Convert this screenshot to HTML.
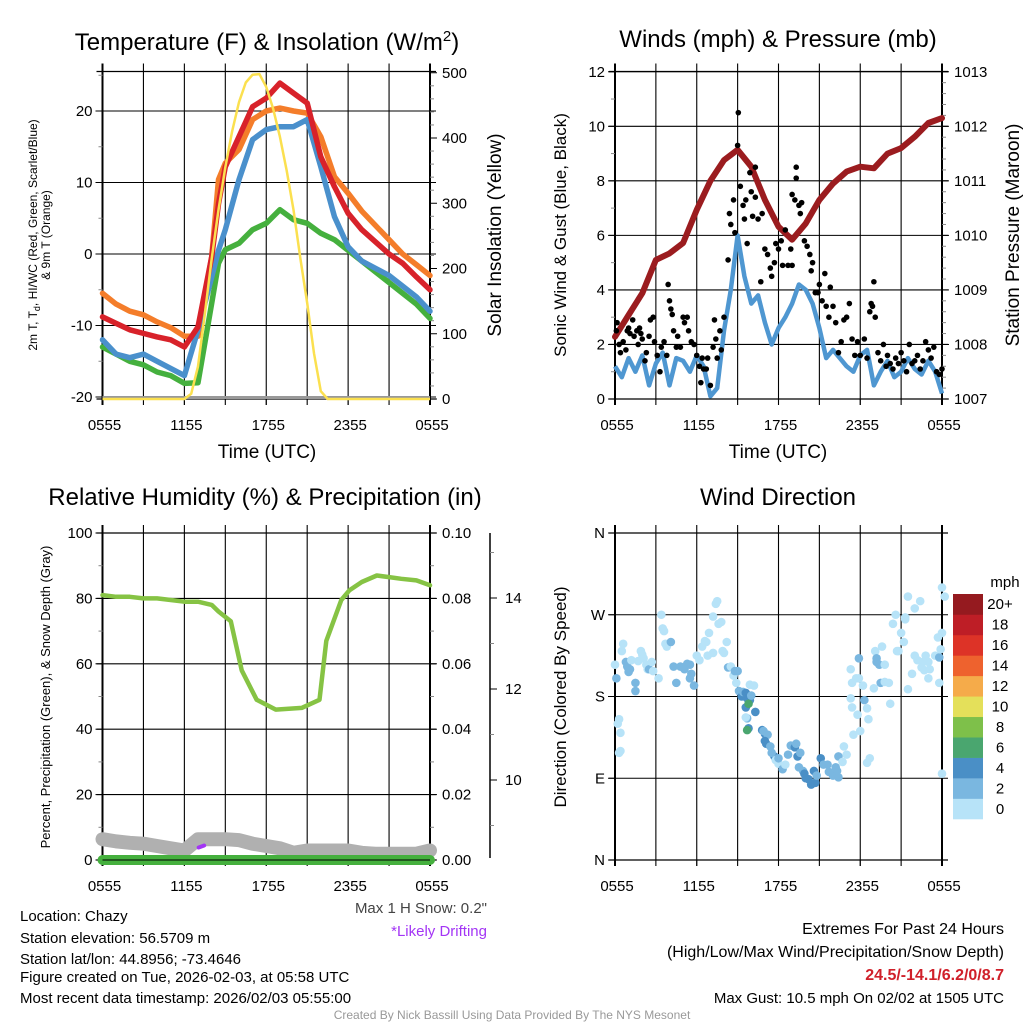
<!DOCTYPE html>
<html><head><meta charset="utf-8"><style>
html,body{margin:0;padding:0;background:#fff;}
svg{display:block;font-family:"Liberation Sans",Arial,sans-serif;}
</style></head><body>
<svg id="c" width="1024" height="1024" viewBox="0 0 1024 1024" xmlns="http://www.w3.org/2000/svg">
<rect width="1024" height="1024" fill="#fff"/>
<g id="g"></g>
<text x="267" y="50" font-size="24" text-anchor="middle">Temperature (F) &amp; Insolation (W/m<tspan dy="-9" font-size="15">2</tspan><tspan dy="9">)</tspan></text>
<text x="778" y="47" font-size="24" text-anchor="middle">Winds (mph) &amp; Pressure (mb)</text>
<text x="265" y="505" font-size="24" text-anchor="middle">Relative Humidity (%) &amp; Precipitation (in)</text>
<text x="778" y="505" font-size="24" text-anchor="middle">Wind Direction</text>
<text x="267" y="458" font-size="19" text-anchor="middle">Time (UTC)</text>
<text x="778" y="458" font-size="19" text-anchor="middle">Time (UTC)</text>
<text transform="translate(37,235) rotate(-90)" font-size="12" text-anchor="middle">2m T, T<tspan dy="3" font-size="9">d</tspan><tspan dy="-3">, HI/WC (Red, Green, Scarlet/Blue)</tspan></text>
<text transform="translate(50,235) rotate(-90)" font-size="12" text-anchor="middle">&amp; 9m T (Orange)</text>
<text transform="translate(501,235) rotate(-90)" font-size="19" text-anchor="middle">Solar Insolation (Yellow)</text>
<text transform="translate(566,235) rotate(-90)" font-size="17" text-anchor="middle">Sonic Wind &amp; Gust (Blue, Black)</text>
<text transform="translate(1019,235) rotate(-90)" font-size="19" text-anchor="middle">Station Pressure (Maroon)</text>
<text transform="translate(50,697) rotate(-90)" font-size="13" text-anchor="middle">Percent, Precipitation (Green), &amp; Snow Depth (Gray)</text>
<text transform="translate(566,697) rotate(-90)" font-size="17" text-anchor="middle">Direction (Colored By Speed)</text>
<g font-size="15">
<text x="20" y="921">Location: Chazy</text>
<text x="20" y="943">Station elevation: 56.5709 m</text>
<text x="20" y="964">Station lat/lon: 44.8956; -73.4646</text>
<text x="20" y="982">Figure created on Tue, 2026-02-03, at 05:58 UTC</text>
<text x="20" y="1003">Most recent data timestamp: 2026/02/03 05:55:00</text>
</g>
<text x="487" y="913" font-size="15" text-anchor="end" fill="#444">Max 1 H Snow: 0.2"</text>
<text x="487" y="936" font-size="15" text-anchor="end" fill="#a335f5">*Likely Drifting</text>
<text x="1004" y="934" font-size="16" text-anchor="end">Extremes For Past 24 Hours</text>
<text x="1004" y="957" font-size="16" text-anchor="end">(High/Low/Max Wind/Precipitation/Snow Depth)</text>
<text x="1004" y="980" font-size="16" font-weight="bold" text-anchor="end" fill="#d0202a">24.5/-14.1/6.2/0/8.7</text>
<text x="1004" y="1003" font-size="15" text-anchor="end">Max Gust: 10.5 mph On 02/02 at 1505 UTC</text>
<text x="512" y="1019" font-size="12" text-anchor="middle" fill="#999">Created By Nick Bassill Using Data Provided By The NYS Mesonet</text>
</svg>
<script>
// ---- data (hours since 0555 UTC) ----
const xTickLabels = ["0555","1155","1755","2355","0555"];
const hours = [0,1,2,3,4,5,6,7,8,8.5,9,10,11,12,13,14,15,16,17,18,19,20,21,22,23,24];
const tempRed = [-8.8,-9.7,-10.6,-11.1,-11.6,-12,-13,-10.2,-0.4,7,12.2,16.4,20.6,21.8,23.9,22.5,21.1,13.6,9.4,5.7,3.4,1.7,0,-1.3,-3.2,-5];
const tempOrange = [-5.5,-7,-8,-8.5,-9.5,-10.3,-11.5,-11.5,-0.4,10.4,12.7,14.6,18.8,20,20.4,20,19.7,16.4,10.8,8.5,6,4,2,0,-1.5,-3];
const tempBlue = [-12,-14,-14.5,-14,-15,-16,-17,-10.6,-3.2,0.5,3.4,10.4,16,17.4,17.8,17.8,18.8,12.2,5.2,1,-1,-2,-3,-4.5,-6,-8];
const tempGreen = [-13,-14,-15,-15.5,-16.5,-17,-18.1,-18,-6.9,-1.3,0.6,1.5,3.4,4.3,6.2,4.8,4.3,2.9,2,0.5,-1,-2.5,-4,-5.5,-7,-9];
const solarHours = [0,6,6.5,7,7.5,8,8.5,9,9.5,10,10.5,11,11.5,12,12.5,13,13.5,14,14.5,15,15.5,16,16.5,24];
const solarValues = [0,0,8,50,130,215,290,355,410,455,485,497,498,478,445,402,350,290,215,147,70,12,0,0];
const windHours = [0,0.5,1,1.5,2,2.5,3,3.5,4,4.5,5,5.5,6,6.5,7,7.5,8,8.5,9,9.5,10,10.5,11,11.5,12,12.5,13,13.5,14,14.5,15,15.5,16,16.5,17,17.5,18,18.5,19,19.5,20,20.5,21,21.5,22,22.5,23,23.5,24];
const windSpeed = [1.2,0.8,1.5,1.0,1.6,0.5,1.3,1.7,0.5,1.5,1.4,1.0,1.6,1.2,0.1,0.4,2.5,4.0,6.0,4.5,3.5,3.8,2.8,2.0,2.6,3.0,3.5,4.2,4.0,3.5,2.6,1.5,1.8,1.5,1.2,1.0,1.6,1.8,0.5,1.0,1.4,0.8,1.0,1.5,1.1,0.9,1.4,1.0,0.2];
const pressureHours = [0,1,2,3,4,5,6,7,8,9,10,11,12,13,14,15,16,17,18,19,20,21,22,23,24];
const pressure = [1008.14,1008.54,1008.94,1009.55,1009.67,1009.86,1010.47,1011.0,1011.38,1011.57,1011.26,1010.65,1010.16,1009.92,1010.22,1010.65,1010.95,1011.17,1011.26,1011.23,1011.5,1011.6,1011.81,1012.06,1012.15];
const gustHours = [0.1,0.15,0.3,0.4,0.6,0.8,0.9,1.0,1.1,1.3,1.4,1.6,1.7,1.8,1.9,2.0,2.2,2.3,2.5,2.6,2.8,2.9,3.1,3.3,3.4,3.6,3.8,3.9,4.0,4.1,4.2,4.3,4.5,4.6,4.8,5.0,5.1,5.3,5.4,5.6,5.8,6.0,6.2,6.3,6.4,6.5,6.7,6.8,7.0,7.2,7.3,7.4,7.5,7.7,7.8,8.0,8.3,8.4,8.5,8.7,8.8,9.0,9.05,9.2,9.4,9.5,9.6,9.7,9.9,10.0,10.1,10.3,10.3,10.5,10.7,10.8,11.0,11.2,11.4,11.5,11.7,11.8,12.0,12.2,12.3,12.5,12.7,12.9,13.0,13.0,13.2,13.3,13.3,13.5,13.6,13.7,13.9,14.1,14.3,14.4,14.5,14.7,14.9,15.0,15.2,15.4,15.5,15.7,15.8,16.0,16.2,16.4,16.6,16.8,17.0,17.2,17.4,17.6,17.8,18.0,18.3,18.5,18.7,18.8,18.9,19.0,19.1,19.3,19.5,19.7,19.9,20.0,20.2,20.4,20.6,20.8,21.0,21.2,21.4,21.6,21.8,22.0,22.2,22.4,22.6,22.8,23.0,23.2,23.4,23.6,23.8,24.0];
const gustValues = [2.5,2.8,2.0,1.7,2.1,1.8,2.5,2.6,2.4,2.9,2.3,2.5,2.0,2.6,2.4,2.2,1.4,1.7,2.3,2.9,3.0,2.1,1.6,1.0,1.9,2.1,1.6,4.2,3.6,3.3,3.1,2.5,1.9,2.3,1.9,3.0,2.8,3.0,2.5,2.1,2.0,1.6,1.2,0.6,1.5,1.1,1.1,1.5,0.5,1.9,2.9,2.2,1.5,2.5,1.8,3.0,5.1,6.8,6.4,7.3,6.1,9.3,10.5,7.8,7.1,6.6,7.3,5.7,8.3,7.6,6.7,8.5,7.4,6.6,4.3,6.8,5.5,5.3,4.8,4.5,5.0,5.7,5.5,5.8,4.9,6.2,4.9,5.5,4.9,7.5,7.3,8.5,8.1,7.1,6.8,7.2,5.8,5.6,5.3,4.7,5.0,3.9,3.9,4.2,3.6,4.6,3.4,3.0,4.1,3.4,2.8,1.7,2.1,2.9,3.0,3.5,2.2,1.6,2.1,1.6,2.2,1.5,3.2,3.5,3.4,4.3,3.0,1.7,1.4,2.0,1.2,1.6,1.3,1.1,1.5,1.3,1.7,1.4,1.0,2.0,1.3,1.4,1.6,1.1,1.4,2.1,1.8,1.5,1.9,1.0,0.9,1.1];
const rhHours = [0,1,2,3,4,5,6,7,8,8.5,9.4,10.2,11.3,12.7,14.6,15.9,16.4,17.5,18.1,19,20.1,21,21.9,23,24];
const rhValues = [81,80.5,80.5,80,80,79.5,79,79,78,76,73,58,49,46,46.5,49,67,79.5,82.5,85,87,86.5,86,85.5,84];
const snowHours = [0,1,2,3,4,5,6,7,8,9,10,11,12,13,14,15,16,17,18,19,20,21,22,23,24];
const snowDepth = [8.7,8.65,8.62,8.6,8.55,8.5,8.45,8.7,8.7,8.7,8.68,8.6,8.55,8.5,8.4,8.45,8.45,8.45,8.45,8.4,8.38,8.38,8.38,8.38,8.45];
const precip = [0,0,0,0,0,0,0,0,0,0,0,0,0,0,0,0,0,0,0,0,0,0,0,0,0];
const dirHours = [0.0,0.1,0.3,0.2,0.4,0.3,0.4,0.5,0.6,0.8,0.9,1.0,1.2,1.1,1.5,1.5,1.7,1.9,2.0,2.1,2.3,2.4,2.5,2.7,2.8,3.2,3.5,3.4,3.6,3.7,3.8,4.1,4.5,4.3,4.8,5.0,5.1,5.3,5.5,5.6,5.8,5.5,6.0,6.2,6.4,6.6,6.8,6.7,6.9,7.2,7.2,7.4,7.5,7.6,7.8,7.9,8.0,8.2,8.3,8.5,8.7,8.8,8.9,9.0,9.1,9.3,9.4,9.6,9.6,9.7,9.9,9.7,9.6,9.8,10.0,9.9,10.2,10.3,9.8,9.7,9.8,10.8,11.0,10.9,11.2,11.0,11.1,11.4,11.7,11.5,11.8,12.0,12.0,12.3,12.5,12.7,12.9,13.2,13.4,13.3,13.6,13.5,13.8,13.9,14.0,14.2,14.4,14.6,14.7,14.8,15.1,15.3,15.6,15.7,16.0,16.2,16.4,16.7,16.8,17.0,16.3,16.4,17.5,17.8,18.0,17.7,17.9,18.2,18.5,18.3,17.3,17.4,17.4,17.9,17.3,18.6,19.0,18.7,18.5,19.1,19.2,19.2,19.4,19.5,19.6,19.8,19.8,20.2,20.1,20.4,20.6,20.8,20.7,21.0,21.2,21.5,21.3,21.5,21.3,21.8,22.0,22.4,22.0,22.5,22.7,23.0,23.1,23.5,23.8,23.8,23.9,24.0,24.0,24.2,24.0,23.7,23.0,22.8,22.6,22.2];
const dirDegrees = [215,200,155,150,140,118,120,230,238,218,213,207,220,210,195,186,219,230,226,222,215,210,210,218,208,200,255,270,252,238,235,240,195,213,213,212,210,216,215,205,192,200,225,220,235,241,225,240,250,228,268,282,285,260,262,230,228,240,212,213,203,208,195,208,186,180,185,184,168,178,176,156,157,178,181,193,192,163,145,143,172,143,139,142,138,131,128,125,114,118,110,106,112,100,105,116,126,124,114,128,118,102,98,95,90,89,83,98,85,93,112,105,105,97,93,102,114,108,125,116,98,91,138,160,142,200,200,192,167,176,210,168,195,222,178,155,189,112,107,230,218,222,215,195,235,196,215,172,195,260,270,230,230,250,240,188,265,290,267,205,277,285,225,212,209,200,210,225,223,195,232,250,300,290,95,245,218,225,218,220];
const dirSpeed = [1,2,0,0,0,0,0,1,0,3,2,2,1,2,3,3,1,0,0,0,1,1,3,1,0,0,0,0,1,0,0,3,3,2,2,3,2,2,2,3,3,3,0,0,0,1,0,0,0,0,0,0,0,0,0,1,0,0,2,0,0,2,1,3,3,4,3,4,4,4,5,3,0,4,2,1,1,4,4,6,6,4,4,2,3,4,4,3,4,3,1,1,2,2,1,3,3,4,4,2,2,2,2,4,4,4,4,4,4,3,4,2,2,2,3,2,2,1,0,0,2,2,0,1,0,0,0,0,0,3,0,0,0,2,0,0,0,0,0,0,2,2,2,2,0,0,0,0,0,0,0,0,0,0,0,0,0,0,0,0,0,0,0,0,0,0,0,0,2,0,0,0,0,0,0,0,0,0,0,0,0];
const cbLabels = ["0","2","4","6","8","10","12","14","16","18","20+"];
const cbColors = ["#b7e3f8","#7ab7e0","#4a8fc6","#4aa66f","#7ec04a","#e4e05a","#f5ab4a","#ee622e","#dd3327","#be1e26","#951a1f"];

// ---- helpers ----
const NS="http://www.w3.org/2000/svg";
const G=document.getElementById('g');
function el(tag,attrs,parent){const e=document.createElementNS(NS,tag);for(const k in attrs)e.setAttribute(k,attrs[k]);(parent||G).appendChild(e);return e;}
function txt(x,y,s,size,anchor,parent){const t=el('text',{x:x,y:y,'font-size':size,'text-anchor':anchor||'middle'},parent);t.textContent=s;return t;}
function pathD(xs,ys){return xs.map((x,i)=>(i?'L':'M')+x.toFixed(1)+','+ys[i].toFixed(1)).join('');}

function makeX(x0,x1){return h=>x0+h/24*(x1-x0);}
function frame(P,name){
  const g=el('g',{});
  
  
  for(let h=3;h<24;h+=3){const x=P.x(h);el('line',{x1:x,x2:x,y1:P.top-8,y2:P.bot+6,stroke:'#000','stroke-width':1.1},g);}
  for(let i=0;i<=4;i++){const x=P.x(i*6);el('line',{x1:x,x2:x,y1:P.bot,y2:P.bot+6,stroke:'#000','stroke-width':1},g);
    txt(x+2,P.bot+31,xTickLabels[i],15,'middle',g);}
  el('line',{x1:P.x0,x2:P.x0,y1:P.top-8,y2:P.bot+6,stroke:'#000','stroke-width':2},g);
  el('line',{x1:P.x1,x2:P.x1,y1:P.top-8,y2:P.bot+6,stroke:'#000','stroke-width':2},g);
  el('line',{x1:P.x0-6,x2:P.x1+6,y1:P.top,y2:P.top,stroke:'#000','stroke-width':1.2},g);
  el('line',{x1:P.x0-6,x2:P.x1+6,y1:P.bot,y2:P.bot,stroke:'#000','stroke-width':1.2},g);
  return g;
}
function yAxis(P,yf,vals,labels,minor,side,grid,g){
  const xa= side==='L'?P.x0:P.x1;
  vals.forEach((v,i)=>{const y=yf(v);
    if(grid)el('line',{x1:P.x0-6,x2:P.x1+6,y1:y,y2:y,stroke:'#000','stroke-width':1.1},g);
    el('line',{x1:side==='L'?xa-7:xa,x2:side==='L'?xa:xa+7,y1:y,y2:y,stroke:'#000','stroke-width':1},g);
    if(side==='L')txt(xa-10,y+5,labels[i],15,'end',g); else txt(xa+12,y+5,labels[i],15,'start',g);});
  minor.forEach(v=>{const y=yf(v);el('line',{x1:side==='L'?xa-4:xa,x2:side==='L'?xa:xa+4,y1:y,y2:y,stroke:'#888','stroke-width':1},g);});
}

// ---- Panel 1: temperature ----
(function(){
  const P={x0:102.5,x1:430,top:71.5,bot:399};P.x=makeX(P.x0,P.x1);
  const yT=v=>111+(20-v)*7.15, yS=s=>399-s*0.6525;
  const g=frame(P,'temperature-chart');
  yAxis(P,yT,[-20,-10,0,10,20],["-20","-10","0","10","20"],[-15,-5,5,15,25],'L',true,g);
  yAxis(P,yS,[0,100,200,300,400,500],["0","100","200","300","400","500"],[20,40,60,80,120,140,160,180,220,240,260,280,320,340,360,380,420,440,460,480],'R',false,g);
  const gl=el('line',{x1:P.x0,x2:P.x1,y1:yT(-20)+0.5,y2:yT(-20)+0.5,stroke:'#999','stroke-width':3});
  
  
  const X=hours.map(P.x);
  const series=[[tempOrange,'#f47d2a','orange-9m-temp'],[tempGreen,'#45b03e','green-dewpoint'],[tempBlue,'#4a90cc','blue-wind-chill'],[tempRed,'#d8222a','red-2m-temp']];
  series.forEach(s=>{const p=el('path',{d:pathD(X,s[0].map(yT)),fill:'none',stroke:s[1],'stroke-width':5.5,'stroke-linejoin':'round','stroke-linecap':'round'});
    
    });
  const sp=el('path',{d:pathD(solarHours.map(P.x),solarValues.map(yS)),fill:'none',stroke:'#fbe04f','stroke-width':2.5,'stroke-linejoin':'round'});
  
  
})();

// ---- Panel 2: winds ----
(function(){
  const P={x0:615,x1:942,top:71.5,bot:399};P.x=makeX(P.x0,P.x1);
  const yW=v=>399-v*27.27, yP=p=>yW((p-1007)*2);
  const g=frame(P,'winds-chart');
  yAxis(P,yW,[0,2,4,6,8,10,12],["0","2","4","6","8","10","12"],[1,3,5,7,9,11],'L',true,g);
  const pm=[];for(let p=1007.2;p<1013;p+=0.2){if(Math.abs(p-Math.round(p))>0.05)pm.push(p);}
  yAxis(P,yP,[1007,1008,1009,1010,1011,1012,1013],["1007","1008","1009","1010","1011","1012","1013"],pm,'R',false,g);
  const wp=el('path',{d:pathD(windHours.map(P.x),windSpeed.map(yW)),fill:'none',stroke:'#4f97d1','stroke-width':4.5,'stroke-linejoin':'round'});
  
  
  const pp=el('path',{d:pathD(pressureHours.map(P.x),pressure.map(yP)),fill:'none',stroke:'#9b1c1f','stroke-width':6,'stroke-linejoin':'round','stroke-linecap':'round'});
  
  
  gustHours.forEach((h,i)=>{const c=el('circle',{cx:P.x(h),cy:yW(gustValues[i]),r:2.8,fill:'#000'});
    
    });
})();

// ---- Panel 3: RH ----
(function(){
  const P={x0:102.5,x1:430,top:533,bot:860};P.x=makeX(P.x0,P.x1);
  const yR=v=>860-v*3.27, yPr=v=>yR(v*1000), yD=d=>780-(d-10)*45.5;
  const g=frame(P,'humidity-chart');
  yAxis(P,yR,[0,20,40,60,80,100],["0","20","40","60","80","100"],[10,30,50,70,90],'L',true,g);
  yAxis(P,yR,[0,20,40,60,80,100],["0.00","0.02","0.04","0.06","0.08","0.10"],[10,30,50,70,90],'R',false,g);
  const sa=el('g',{});
  
  
  el('line',{x1:490,x2:490,y1:533,y2:858,stroke:'#000','stroke-width':1.5},sa);
  [10,12,14].forEach(d=>{el('line',{x1:490,x2:497,y1:yD(d),y2:yD(d),stroke:'#000'},sa);txt(505,yD(d)+5,String(d),15,'start',sa);});
  [9,11,13,15].forEach(d=>{el('line',{x1:490,x2:494,y1:yD(d),y2:yD(d),stroke:'#888'},sa);});
  const X=snowHours.map(P.x);
  const sd=el('path',{d:pathD(X,snowDepth.map(yD)),fill:'none',stroke:'#b0b0b0','stroke-width':14,'stroke-linejoin':'round','stroke-linecap':'round'});
  
  
  const pr=el('path',{d:pathD(X,precip.map(yPr)),fill:'none',stroke:'#45b03e','stroke-width':10,'stroke-linecap':'round'});
  
  
  el('line',{x1:P.x0,x2:P.x1,y1:860,y2:860,stroke:'#000','stroke-width':1});
  const dr=el('line',{x1:P.x(7.05),x2:P.x(7.45),y1:847.5,y2:845.5,stroke:'#a335f5','stroke-width':4,'stroke-linecap':'round'});
  
  
  const rh=el('path',{d:pathD(rhHours.map(P.x),rhValues.map(yR)),fill:'none',stroke:'#86c344','stroke-width':4.5,'stroke-linejoin':'round','stroke-linecap':'round'});
  
  
})();

// ---- Panel 4: wind direction ----
(function(){
  const P={x0:615,x1:942,top:533,bot:860};P.x=makeX(P.x0,P.x1);
  const yD=d=>860-d*(327/360);
  const g=frame(P,'wind-direction-chart');
  yAxis(P,yD,[0,90,180,270,360],["N","E","S","W","N"],[],'L',true,g);
  function col(s){const i=Math.min(10,Math.floor(s/2));return cbColors[i];}
  dirHours.forEach((h,i)=>{const c=el('circle',{cx:P.x(h),cy:yD(dirDegrees[i]),r:4.3,fill:col(dirSpeed[i])});
    
    });
  const cb=el('g',{});
  
  
  const h=225/11;
  cbColors.forEach((c,i)=>{const y=819-(i+1)*h;el('rect',{x:953,y:y,width:30,height:h+0.3,fill:c},cb);txt(1000,y+h/2+5,cbLabels[i],15,'middle',cb);});
  txt(1005,587,'mph',15,'middle',cb);
})();
</script>
</body></html>
